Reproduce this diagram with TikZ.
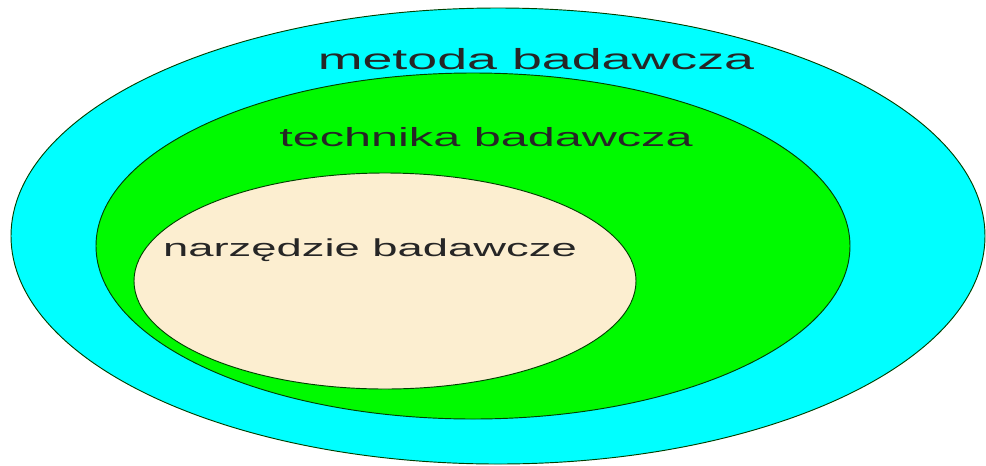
\documentclass[tikz,border=0pt]{standalone}
\usepackage{fontspec}
\newfontfamily\labelfont[FakeStretch=1.85]{Liberation Sans}
\definecolor{metodacol}{RGB}{0,255,255}
\definecolor{technikacol}{RGB}{0,250,0}
\definecolor{narzedziecol}{RGB}{252,238,208}
\begin{document}
\begin{tikzpicture}[x=0.75pt,y=-0.75pt]
    \useasboundingbox (0,0) rectangle (986,465);
    \draw [fill=metodacol, draw=black!75!green, line width=0.7pt] (498,236) ellipse [x radius=487, y radius=228];
    \draw [fill=technikacol, draw=black!75!green, line width=0.7pt] (473,246) ellipse [x radius=377, y radius=173];
    \draw [fill=narzedziecol, draw=black!75!green, line width=0.7pt] (385,281) ellipse [x radius=251, y radius=108];
    \node (metoda) [anchor=base, inner sep=0pt, text=black!85] at (536,69) {\labelfont\fontsize{21.8pt}{26pt}\selectfont metoda badawcza};
    \node (technika) [anchor=base, inner sep=0pt, text=black!85] at (486,146) {\labelfont\fontsize{19.7pt}{24pt}\selectfont technika badawcza};
    \node (narzedzie) [anchor=base, inner sep=0pt, text=black!85] at (370,256) {\labelfont\fontsize{18.4pt}{22pt}\selectfont narzędzie badawcze};
  \end{tikzpicture}
\end{document}
